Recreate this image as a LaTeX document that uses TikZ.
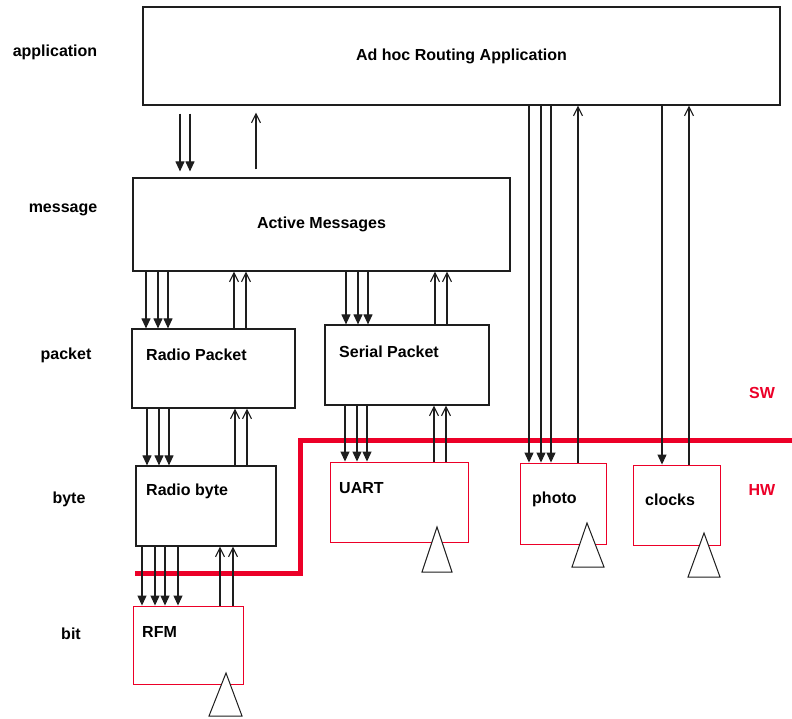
\documentclass[tikz,border=0pt]{standalone}
\usepackage{fontspec}
\setmainfont{Liberation Sans}
\usetikzlibrary{arrows.meta}
\definecolor{rojo}{RGB}{236,0,40}
\definecolor{negro}{RGB}{30,30,30}
\tikzset{
  capa/.style={draw=negro, line width=1.2pt, inner sep=0pt, font=\fontsize{16}{18}\selectfont\bfseries},
  hwcaja/.style={draw=rojo, line width=0.9pt, inner sep=0pt},
  txt/.style={font=\fontsize{16}{18}\selectfont\bfseries, inner sep=0pt, anchor=west},
  nivel/.style={font=\fontsize{16}{18}\selectfont\bfseries, inner sep=0pt},
  baja/.style={-{Triangle[length=10pt, width=9pt]}, line width=1.1pt, negro},
  sube/.style={-{Straight Barb[length=9pt, width=9pt]}, line width=1.1pt, negro},
  borde/.style={rojo, line width=5pt},
  tri/.style={draw=negro, fill=white, line width=1pt},
}
\begin{document}
\begin{tikzpicture}[x=1pt, y=-1pt]
  \useasboundingbox (0,0) rectangle (792,718);
  % layers
  \node[nivel] (lApp)  at (55,52)  {application};
  \node[nivel] (lMsg)  at (63,210) {message};
  \node[nivel] (lPkt)  at (66,355) {packet};
  \node[nivel] (lByte) at (69,499) {byte};
  \node[nivel] (lBit)  at (71,634) {bit};
  % software
  \node[capa, minimum width=637pt, minimum height=98pt] (app) at (461.5,56) {Ad hoc Routing Application};
  \node[capa, minimum width=377pt, minimum height=93pt] (am) at (321.5,224.5) {Active Messages};
  \node[capa, minimum width=163pt, minimum height=79pt] (rp) at (213.5,368.5) {};
  \node[capa, minimum width=164pt, minimum height=80pt] (sp) at (407,365) {};
  \node[capa, minimum width=140pt, minimum height=80pt] (rb) at (206,506) {};
  \node[txt] (rpT) at (146,355) {Radio Packet};
  \node[txt] (spT) at (339,352) {Serial Packet};
  \node[txt] (rbT) at (146,491) {Radio byte};
  % hardware
  \node[hwcaja, minimum width=138pt, minimum height=80pt] (uart) at (399,502) {};
  \node[hwcaja, minimum width=86pt, minimum height=81pt] (photo) at (563,503.5) {};
  \node[hwcaja, minimum width=87pt, minimum height=80pt] (clk) at (676.5,505) {};
  \node[hwcaja, minimum width=110pt, minimum height=78pt] (rfm) at (188,645) {};
  \node[txt] (uartT) at (339,488) {UART};
  \node[txt] (photoT) at (532,499) {photo};
  \node[txt] (clkT) at (645,500) {clocks};
  \node[txt] (rfmT) at (142,632) {RFM};
  % SW / HW boundary
  \draw[borde] (135,573) -- (300,573) -- (300,440) -- (792,440);
  \node[nivel, text=rojo] (sw) at (762,393) {SW};
  \node[nivel, text=rojo] (hw) at (762,490) {HW};
  % arrows
  \foreach \x in {180,190} \draw[baja, shorten <=8pt, shorten >=6pt] (app.south -| \x,0) -- (am.north -| \x,0);
  \draw[sube, shorten <=8pt, shorten >=7pt] (am.north -| 256,0) -- (app.south -| 256,0);
  \foreach \x in {146,158,168} \draw[baja] (am.south -| \x,0) -- (rp.north -| \x,0);
  \foreach \x in {234,246} \draw[sube] (rp.north -| \x,0) -- (am.south -| \x,0);
  \foreach \x in {346,358,368} \draw[baja] (am.south -| \x,0) -- (sp.north -| \x,0);
  \foreach \x in {435,447} \draw[sube] (sp.north -| \x,0) -- (am.south -| \x,0);
  \foreach \x in {147,159,169} \draw[baja] (rp.south -| \x,0) -- (rb.north -| \x,0);
  \foreach \x in {235,247} \draw[sube] (rb.north -| \x,0) -- (rp.south -| \x,0);
  \foreach \x in {345,357,367} \draw[baja] (sp.south -| \x,0) -- (uart.north -| \x,0);
  \foreach \x in {434,446} \draw[sube] (uart.north -| \x,0) -- (sp.south -| \x,0);
  \foreach \x in {142,155,165,178} \draw[baja] (rb.south -| \x,0) -- (rfm.north -| \x,0);
  \foreach \x in {220,233} \draw[sube] (rfm.north -| \x,0) -- (rb.south -| \x,0);
  \foreach \x in {529,541,551} \draw[baja] (app.south -| \x,0) -- (photo.north -| \x,0);
  \draw[sube] (photo.north -| 578,0) -- (app.south -| 578,0);
  \draw[baja] (app.south -| 662,0) -- (clk.north -| 662,0);
  \draw[sube] (clk.north -| 689,0) -- (app.south -| 689,0);
  % antennas
  \draw[tri] (422,572) -- (437,527) -- (452,572) -- cycle;
  \draw[tri] (572,567) -- (587,523) -- (604,567) -- cycle;
  \draw[tri] (688,577) -- (704,533) -- (720,577) -- cycle;
  \draw[tri] (209,716) -- (226,673) -- (242,716) -- cycle;
\end{tikzpicture}
\end{document}
